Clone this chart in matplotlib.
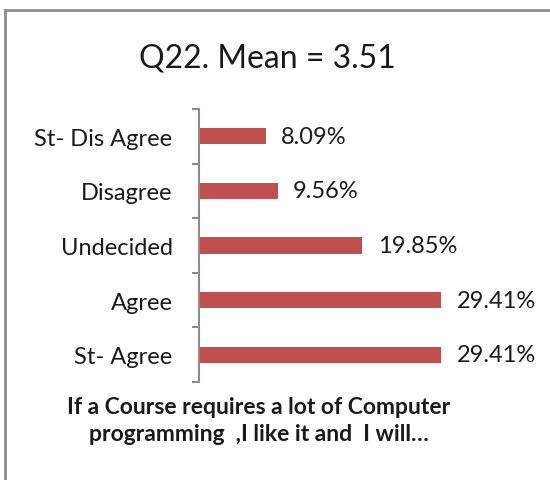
import numpy as np
import matplotlib
matplotlib.use('Agg')
import matplotlib.pyplot as plt
from matplotlib.patches import Rectangle

# survey answers, listed top to bottom as in the chart
categories = ['St- Dis Agree', 'Disagree', 'Undecided', 'Agree', 'St- Agree']
percent = [8.09, 9.56, 19.85, 29.41, 29.41]
value_labels = ['8.09%', '9.56%', '19.85%', '29.41%', '29.41%']

plt.rcParams['font.family'] = ['Lato', 'DejaVu Sans']

W, H = 550, 481
fig = plt.figure(figsize=(W / 100, H / 100), dpi=100)

# grey chart border (runs off the right and bottom edges)
fig.patches.append(Rectangle((5 / W, -0.1), 1.2, 1 - 11 / H + 0.1,
                             transform=fig.transFigure, fill=False,
                             edgecolor='#8c8c8c', linewidth=2))

ax = fig.add_axes([199 / W, 1 - 383 / H, 247 / W, (383 - 110) / H])
y = np.arange(len(categories))
ax.barh(y, np.array(percent) / 100, height=0.3, color='#C0504D')
ax.set_xlim(0, 0.30)
ax.set_ylim(len(categories) - 0.5, -0.5)

for yi, v, lab in zip(y, percent, value_labels):
    ax.annotate(lab, (v / 100, yi), xytext=(11, 0), textcoords='offset points',
                va='center', ha='left', fontsize=17, color='#1a1a1a')

for s in ['top', 'right', 'bottom']:
    ax.spines[s].set_visible(False)
ax.spines['left'].set_color('#8c8c8c')
ax.spines['left'].set_linewidth(1.5)
ax.set_xticks([])
ax.set_yticks(y)
ax.set_yticklabels(categories, fontsize=17, color='#1a1a1a')
ax.tick_params(axis='y', which='major', length=0, pad=19)
ax.set_yticks(np.arange(-0.5, len(categories)), minor=True)
ax.tick_params(axis='y', which='minor', length=5, width=1.5, color='#8c8c8c')

fig.text(267 / W, 1 - 59 / H, 'Q22. Mean = 3.51', ha='center', va='center',
         fontsize=23, color='#1a1a1a')
fig.text(259 / W, 1 - 421 / H,
         'If a Course requires a lot of Computer\nprogramming  ,I like it and  I will\u2026',
         ha='center', va='center', fontsize=16.5, fontweight='bold',
         linespacing=1.32, color='#1a1a1a')

fig.savefig('out.png', dpi=100)
